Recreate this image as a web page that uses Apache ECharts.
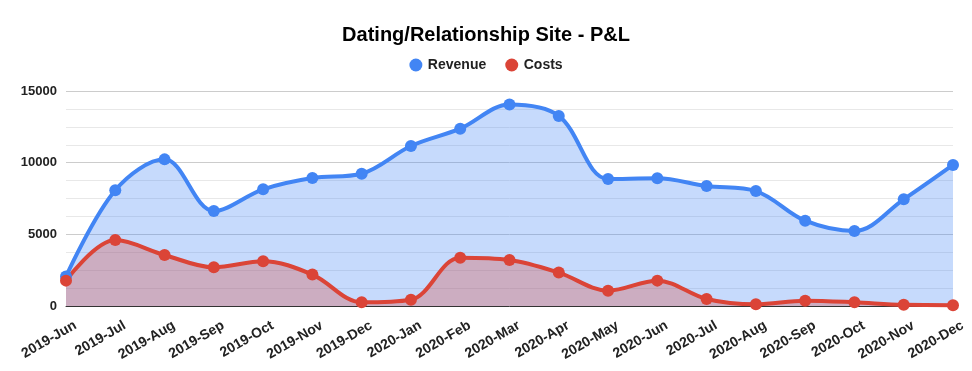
<!DOCTYPE html>
<html>
<head>
<meta charset="utf-8">
<script src="https://cdn.jsdelivr.net/npm/echarts@6/dist/echarts.min.js"></script>
<style>html,body{margin:0;padding:0;background:#fff;}#c{width:972px;height:371px;}</style>
</head>
<body>
<div id="c"></div>
<script>
const categories = ['2019-Jun','2019-Jul','2019-Aug','2019-Sep','2019-Oct','2019-Nov','2019-Dec','2020-Jan','2020-Feb','2020-Mar','2020-Apr','2020-May','2020-Jun','2020-Jul','2020-Aug','2020-Sep','2020-Oct','2020-Nov','2020-Dec'];
const revenue = [2050, 8070, 10230, 6630, 8140, 8930, 9230, 11160, 12370, 14050, 13260, 8860, 8910, 8370, 8020, 5950, 5230, 7440, 9840];
const costs = [1770, 4600, 3560, 2700, 3120, 2190, 260, 440, 3370, 3210, 2330, 1070, 1770, 490, 120, 370, 260, 80, 60];
const yTicks = [0, 5000, 10000, 15000];

const chart = echarts.init(document.getElementById('c'));
const font = 'Arial, "Liberation Sans", sans-serif';
chart.setOption({
  animation: false,
  title: {
    text: 'Dating/Relationship Site - P&L',
    left: 'center', top: 20,
    textStyle: {fontFamily: font, fontSize: 20, fontWeight: 'bold', color: '#000'}
  },
  legend: {
    top: 53, left: 'center',
    icon: 'circle', itemWidth: 14, itemHeight: 13, itemGap: 19,
    textStyle: {fontFamily: font, fontSize: 14, fontWeight: 'bold', color: '#222'}
  },
  grid: {left: 66, right: 19, top: 91, bottom: 65, containLabel: false},
  xAxis: {
    type: 'category', data: categories, boundaryGap: false,
    axisLine: {lineStyle: {color: '#333', width: 1}},
    axisTick: {show: false},
    axisLabel: {rotate: 30, interval: 0, margin: 2, align: 'right', verticalAlign: 'top',
      padding: [12, 0, 0, 0],
      fontFamily: font, fontSize: 14, fontWeight: 'bold', color: '#222'}
  },
  yAxis: {
    type: 'value', min: yTicks[0], max: yTicks[yTicks.length-1], interval: 5000,
    axisLine: {show: false}, axisTick: {show: false},
    axisLabel: {margin: 9, fontFamily: font, fontSize: 13, fontWeight: 'bold', color: '#222',
      formatter: v => String(v)},
    splitLine: {lineStyle: {color: '#cccccc', width: 1}},
    minorTick: {show: false, splitNumber: 4},
    minorSplitLine: {show: true, lineStyle: {color: '#e8e8e8', width: 1}}
  },
  series: [
    {
      name: 'Revenue', type: 'line', data: revenue, smooth: 0.35,
      symbol: 'circle', symbolSize: 12,
      itemStyle: {color: '#4285F4'},
      lineStyle: {width: 4, color: '#4285F4'},
      areaStyle: {color: '#4285F4', opacity: 0.3}
    },
    {
      name: 'Costs', type: 'line', data: costs, smooth: 0.35,
      symbol: 'circle', symbolSize: 12,
      itemStyle: {color: '#DB4437'},
      lineStyle: {width: 4, color: '#DB4437'},
      areaStyle: {color: '#DB4437', opacity: 0.3}
    }
  ]
});
</script>
</body>
</html>
